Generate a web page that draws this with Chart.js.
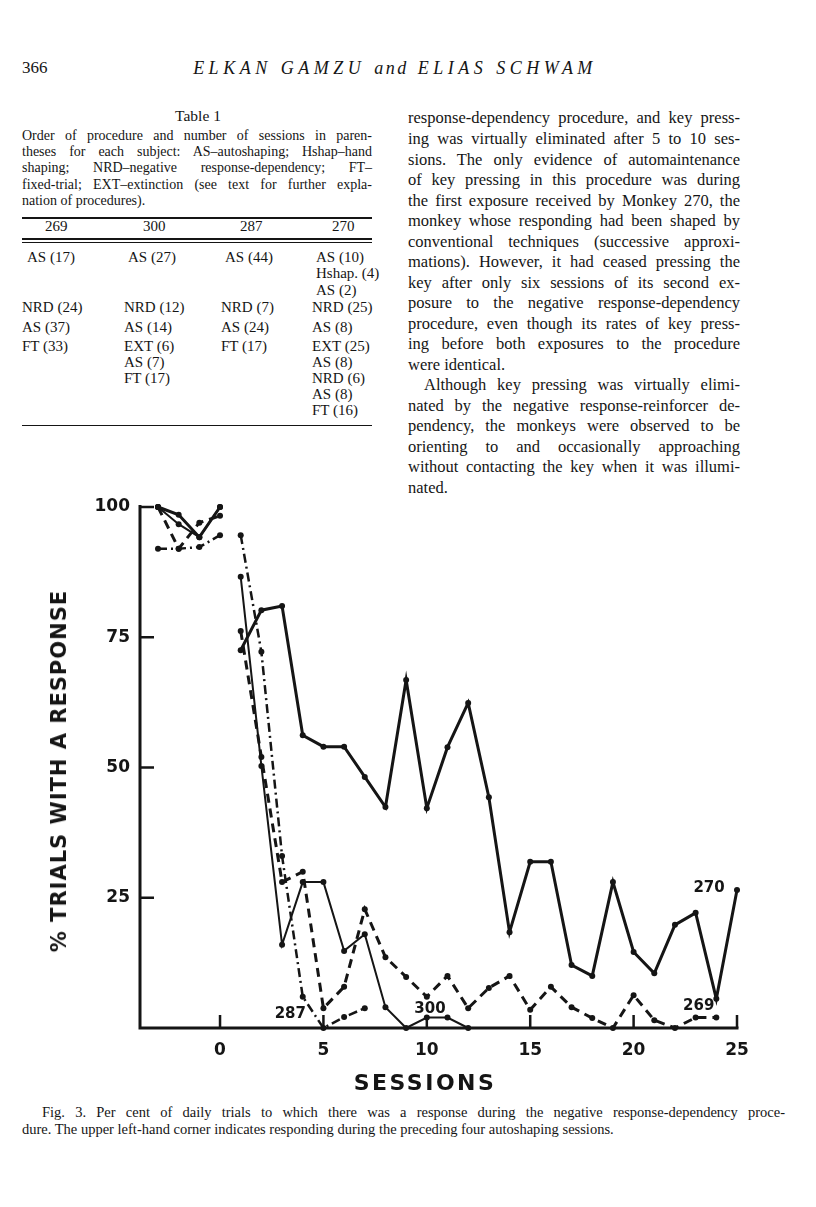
<!DOCTYPE html>
<html>
<head>
<meta charset="utf-8">
<script src="https://cdn.jsdelivr.net/npm/chart.js@4.4.1/dist/chart.umd.min.js"></script>
<style>
  html, body { margin:0; padding:0; background:#fff; }
  body { width:816px; height:1207px; position:relative; overflow:hidden; color:#151515; }
  .t { position:absolute; white-space:nowrap; font-family:"Liberation Serif", "DejaVu Serif", serif; color:#151515; }
  .r { left:408px; width:332px; font-size:16.5px; line-height:20px; height:20px; text-align:justify; text-align-last:justify; }
  .c { left:22px; width:350px; font-size:14px; line-height:16px; height:16px; text-align:justify; text-align-last:justify; }
  .cell { font-size:15px; line-height:16px; height:16px; }
  .rule { position:absolute; left:22px; width:350px; background:#151515; }
  .g { position:absolute; white-space:nowrap; font-family:"DejaVu Sans", sans-serif; font-weight:bold; color:#151515; }
  #wrap { position:absolute; left:0; top:470px; width:816px; height:600px; }
</style>
</head>
<body>
<div class="t" style="left:22px; top:58px; font-size:17px; line-height:20px;">366</div>
<div class="t" style="left:395px; top:57px; font-size:18px; line-height:22px; font-style:italic; letter-spacing:4.5px; transform:translateX(-50%);">ELKAN GAMZU <span style="letter-spacing:2.5px">and</span> ELIAS SCHWAM</div>

<div class="t" style="left:198px; top:106px; font-size:15.5px; line-height:20px; transform:translateX(-50%);">Table 1</div>
<div class="t c" style="top:128px;">Order of procedure and number of sessions in paren-</div>
<div class="t c" style="top:144px;">theses for each subject: AS–autoshaping; Hshap–hand</div>
<div class="t c" style="top:160px;">shaping; NRD–negative response-dependency; FT–</div>
<div class="t c" style="top:177px;">fixed-trial; EXT–extinction (see text for further expla-</div>
<div class="t c" style="top:193px; text-align-last:left;">nation of procedures).</div>

<div class="rule" style="top:217px; height:2px;"></div>
<div class="t cell" style="left:45px; top:218px;">269</div>
<div class="t cell" style="left:143px; top:218px;">300</div>
<div class="t cell" style="left:240px; top:218px;">287</div>
<div class="t cell" style="left:332px; top:218px;">270</div>
<div class="rule" style="top:238px; height:2px;"></div>
<div class="rule" style="top:242px; height:1px;"></div>

<div class="t cell" style="left:27px; top:249px;">AS (17)</div>
<div class="t cell" style="left:128px; top:249px;">AS (27)</div>
<div class="t cell" style="left:225px; top:249px;">AS (44)</div>
<div class="t cell" style="left:316px; top:249px;">AS (10)</div>
<div class="t cell" style="left:316px; top:265px;">Hshap. (4)</div>
<div class="t cell" style="left:316px; top:282px;">AS (2)</div>

<div class="t cell" style="left:22px; top:299px;">NRD (24)</div>
<div class="t cell" style="left:124px; top:299px;">NRD (12)</div>
<div class="t cell" style="left:221px; top:299px;">NRD (7)</div>
<div class="t cell" style="left:312px; top:299px;">NRD (25)</div>

<div class="t cell" style="left:22px; top:319px;">AS (37)</div>
<div class="t cell" style="left:124px; top:319px;">AS (14)</div>
<div class="t cell" style="left:221px; top:319px;">AS (24)</div>
<div class="t cell" style="left:312px; top:319px;">AS (8)</div>

<div class="t cell" style="left:22px; top:338px;">FT (33)</div>
<div class="t cell" style="left:124px; top:338px;">EXT (6)</div>
<div class="t cell" style="left:221px; top:338px;">FT (17)</div>
<div class="t cell" style="left:312px; top:338px;">EXT (25)</div>
<div class="t cell" style="left:124px; top:354px;">AS (7)</div>
<div class="t cell" style="left:312px; top:354px;">AS (8)</div>
<div class="t cell" style="left:124px; top:370px;">FT (17)</div>
<div class="t cell" style="left:312px; top:370px;">NRD (6)</div>
<div class="t cell" style="left:312px; top:386px;">AS (8)</div>
<div class="t cell" style="left:312px; top:402px;">FT (16)</div>
<div class="rule" style="top:425px; height:1px;"></div>

<div class="t r" style="top:108px;">response-dependency procedure, and key press-</div>
<div class="t r" style="top:129px;">ing was virtually eliminated after 5 to 10 ses-</div>
<div class="t r" style="top:150px;">sions. The only evidence of automaintenance</div>
<div class="t r" style="top:170px;">of key pressing in this procedure was during</div>
<div class="t r" style="top:191px;">the first exposure received by Monkey 270, the</div>
<div class="t r" style="top:211px;">monkey whose responding had been shaped by</div>
<div class="t r" style="top:232px;">conventional techniques (successive approxi-</div>
<div class="t r" style="top:252px;">mations). However, it had ceased pressing the</div>
<div class="t r" style="top:273px;">key after only six sessions of its second ex-</div>
<div class="t r" style="top:293px;">posure to the negative response-dependency</div>
<div class="t r" style="top:314px;">procedure, even though its rates of key press-</div>
<div class="t r" style="top:334px;">ing before both exposures to the procedure</div>
<div class="t r" style="top:355px; text-align-last:left;">were identical.</div>
<div class="t r" style="top:375px; left:424px; width:316px;">Although key pressing was virtually elimi-</div>
<div class="t r" style="top:396px;">nated by the negative response-reinforcer de-</div>
<div class="t r" style="top:416px;">pendency, the monkeys were observed to be</div>
<div class="t r" style="top:437px;">orienting to and occasionally approaching</div>
<div class="t r" style="top:457px;">without contacting the key when it was illumi-</div>
<div class="t r" style="top:478px; text-align-last:left;">nated.</div>

<div id="wrap"><canvas id="chart" width="816" height="600"></canvas></div>

<div class="g" style="left:59px; top:771px; font-size:21px; letter-spacing:1px; transform:translate(-50%,-50%) rotate(-90deg);">% TRIALS WITH A RESPONSE</div>
<div class="g" style="left:425px; top:1082px; font-size:22px; letter-spacing:2.5px; transform:translate(-50%,-50%);">SESSIONS</div>

<div class="t" style="left:42px; top:1104px; width:743px; font-size:14.5px; line-height:17px; text-align:justify; text-align-last:justify;">Fig. 3. Per cent of daily trials to which there was a response during the negative response-dependency proce-</div>
<div class="t" style="left:22px; top:1121px; font-size:14.5px; line-height:17px;">dure. The upper left-hand corner indicates responding during the preceding four autoshaping sessions.</div>

<script>
// ---- data ----
const preSessions = [-3, -2, -1, 0];            // the four preceding autoshaping sessions
const pre270 = [100, 98.5, 94.2, 100];
const pre300 = [100, 96.7, 94.2, 100];
const pre269 = [100, 92, 97, 98.3];
const pre287 = [92, 92, 92.3, 94.6];

const nrd270 = [72.5, 80.2, 81, 56.2, 54, 54, 48.2, 42.4, 66.8, 42.2, 53.9, 62.4, 44.3,
                18.4, 31.9, 31.9, 12.1, 10, 28, 14.6, 10.5, 19.8, 22.1, 5.6, 26.5];
const nrd300 = [86.6, 50.3, 16, 28, 28, 14.8, 18, 4, 0, 2, 2, 0];
const nrd269 = [76.2, 52, 28, 30, 3.8, 7.9, 22.8, 13.6, 9.8, 6, 10, 3.8, 7.7, 10, 3.5,
                7.9, 4, 1.9, 0, 6.3, 1.5, 0, 2, 2];
const nrd287 = [94.6, 72.2, 33, 6, 0, 2.1, 3.8];

const xTickValues = [0, 5, 10, 15, 20, 25];
const yTickValues = [25, 50, 75, 100];

const seriesLabels = [
  { text: '270', x: 23.65, y: 26.9 },
  { text: '269', x: 23.15, y: 4.2 },
  { text: '300', x: 10.15, y: 3.6 },
  { text: '287', x: 3.4,  y: 2.7 }
];

// ---- build datasets ----
function build(pre, nrd) {
  const pts = pre.map((v, i) => ({ x: preSessions[i], y: v }));
  pts.push({ x: 0.5, y: null });
  nrd.forEach((v, i) => pts.push({ x: i + 1, y: v }));
  return pts;
}
const INK = '#151515';

const axesPlugin = {
  id: 'axesPlugin',
  beforeDatasetsDraw(chart) {
    const { ctx, chartArea: a, scales: { x, y } } = chart;
    ctx.save();
    ctx.strokeStyle = INK;
    ctx.lineWidth = 3;
    ctx.lineCap = 'butt';
    ctx.beginPath();
    ctx.moveTo(a.left, y.getPixelForValue(100) - 2);
    ctx.lineTo(a.left, a.bottom + 1.5);
    ctx.moveTo(a.left - 1.5, a.bottom);
    ctx.lineTo(x.getPixelForValue(25) + 1.5, a.bottom);
    ctx.stroke();
    ctx.lineWidth = 2.5;
    ctx.beginPath();
    yTickValues.forEach(v => {
      const py = y.getPixelForValue(v);
      ctx.moveTo(a.left, py);
      ctx.lineTo(a.left + 14, py);
    });
    xTickValues.forEach(v => {
      const px = x.getPixelForValue(v);
      ctx.moveTo(px, a.bottom);
      ctx.lineTo(px, a.bottom - 13);
    });
    ctx.stroke();
    ctx.restore();
  },
  afterDatasetsDraw(chart) {
    const { ctx, scales: { x, y } } = chart;
    ctx.save();
    ctx.fillStyle = INK;
    ctx.font = 'bold 15px "DejaVu Sans"';
    ctx.textAlign = 'center';
    ctx.textBaseline = 'middle';
    seriesLabels.forEach(l => ctx.fillText(l.text, x.getPixelForValue(l.x), y.getPixelForValue(l.y)));
    ctx.restore();
  }
};

const common = { pointRadius: 3, pointBackgroundColor: INK, pointBorderWidth: 0, borderColor: INK, fill: false, tension: 0, spanGaps: false, clip: false };

new Chart(document.getElementById('chart'), {
  type: 'line',
  data: {
    datasets: [
      Object.assign({ label: '270', data: build(pre270, nrd270), borderWidth: 3 }, common),
      Object.assign({ label: '300', data: build(pre300, nrd300), borderWidth: 2 }, common),
      Object.assign({ label: '269', data: build(pre269, nrd269), borderWidth: 3, borderDash: [9, 6] }, common),
      Object.assign({ label: '287', data: build(pre287, nrd287), borderWidth: 2.5, borderDash: [9, 4, 2, 4] }, common)
    ]
  },
  options: {
    responsive: false,
    animation: false,
    devicePixelRatio: 1,
    layout: { padding: { top: 37, right: 79, left: 0, bottom: 0 } },
    plugins: { legend: { display: false }, tooltip: { enabled: false } },
    scales: {
      x: {
        type: 'linear', min: -3.87, max: 25,
        grid: { display: false, drawTicks: false },
        border: { display: false },
        afterBuildTicks: s => { s.ticks = xTickValues.map(v => ({ value: v })); },
        afterFit: s => { s.height = 42; },
        ticks: { padding: 12, color: INK, font: { family: 'DejaVu Sans', weight: 'bold', size: 17 } }
      },
      y: {
        min: 0, max: 100,
        grid: { display: false, drawTicks: false },
        border: { display: false },
        afterBuildTicks: s => { s.ticks = yTickValues.map(v => ({ value: v })); },
        afterFit: s => { s.width = 140; },
        ticks: { padding: 10, color: INK, font: { family: 'DejaVu Sans', weight: 'bold', size: 17 } }
      }
    }
  },
  plugins: [axesPlugin]
});
</script>
</body>
</html>
